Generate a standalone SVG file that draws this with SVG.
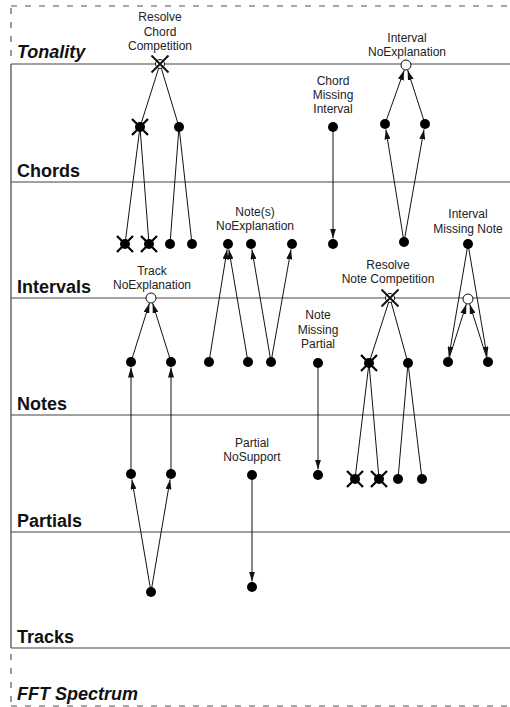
<svg xmlns="http://www.w3.org/2000/svg" xmlns:xlink="http://www.w3.org/1999/xlink" width="510" height="707" viewBox="0 0 510 707">
<style>
.frame{stroke:#444;stroke-width:1.2;fill:none}
.dash{stroke:#555;stroke-width:1.2;stroke-dasharray:6 8;fill:none}
.lvl{font-family:"Liberation Sans",Arial,sans-serif;font-size:18px;font-weight:bold;fill:#111}
.it{font-style:italic}
.lbl{font-family:"Liberation Sans",Arial,sans-serif;font-size:12px;fill:#222;text-anchor:middle}
.edge{stroke:#111;stroke-width:1;fill:none}
.arr{stroke:#111;stroke-width:1;fill:none;marker-end:url(#ah)}
</style>
<defs>
<marker id="ah" viewBox="0 0 10 6" markerWidth="10" markerHeight="6" refX="10" refY="3" orient="auto" markerUnits="userSpaceOnUse">
<path d="M0,0 L10,3 L0,6 Z" fill="#111"/>
</marker>
<g id="dot"><circle r="5" fill="#000"/></g>
<g id="open"><circle r="5" fill="#fff" stroke="#111" stroke-width="1"/></g>
<g id="xdot"><circle r="5" fill="#000"/><path d="M-8,-8 L8,8 M-8,8 L8,-8" stroke="#000" stroke-width="2.2"/></g>
<g id="xopen"><circle r="4.5" fill="#fff" stroke="#111" stroke-width="1"/><path d="M-8.5,-8.5 L8.5,8.5 M-8.5,8.5 L8.5,-8.5" stroke="#111" stroke-width="1.9"/></g>
</defs>
<rect width="510" height="707" fill="#fff"/>
<g id="frame">
<line class="dash" x1="11" y1="6" x2="510" y2="6"/>
<line class="dash" x1="11" y1="8" x2="11" y2="64"/>
<line class="frame" x1="11" y1="64" x2="11" y2="648"/>
<line class="dash" x1="11" y1="654" x2="11" y2="707"/>
<line class="dash" x1="11" y1="706" x2="510" y2="706"/>
<line class="frame" x1="11" y1="64" x2="510" y2="64"/>
<line class="frame" x1="11" y1="182" x2="510" y2="182"/>
<line class="frame" x1="11" y1="298" x2="510" y2="298"/>
<line class="frame" x1="11" y1="415" x2="510" y2="415"/>
<line class="frame" x1="11" y1="532" x2="510" y2="532"/>
<line class="frame" x1="11" y1="648" x2="510" y2="648"/>
</g>
<g id="levels">
<text class="lvl it" x="17" y="58">Tonality</text>
<text class="lvl" x="17" y="177">Chords</text>
<text class="lvl" x="17" y="293">Intervals</text>
<text class="lvl" x="17" y="410">Notes</text>
<text class="lvl" x="17" y="527">Partials</text>
<text class="lvl" x="17" y="643">Tracks</text>
<text class="lvl it" x="17" y="700">FFT Spectrum</text>
</g>
<g id="connectors">
<line class="edge" x1="160" y1="64" x2="140" y2="127"/>
<line class="edge" x1="160" y1="64" x2="179" y2="127"/>
<line class="edge" x1="140" y1="127" x2="125" y2="244"/>
<line class="edge" x1="140" y1="127" x2="149" y2="244"/>
<line class="edge" x1="179" y1="127" x2="170" y2="244"/>
<line class="edge" x1="179" y1="127" x2="192" y2="244"/>
<line class="arr" x1="333" y1="127" x2="333" y2="238.5"/>
<line class="arr" x1="385" y1="124" x2="404.2" y2="70.2"/>
<line class="arr" x1="425" y1="124" x2="407.7" y2="70.2"/>
<line class="arr" x1="404" y1="242" x2="385.9" y2="129.4"/>
<line class="arr" x1="404" y1="242" x2="424" y2="129.4"/>
<line class="arr" x1="209" y1="362" x2="227.1" y2="249.4"/>
<line class="arr" x1="248" y1="362" x2="228.9" y2="249.4"/>
<line class="arr" x1="271" y1="362" x2="251.9" y2="249.4"/>
<line class="arr" x1="271" y1="362" x2="291" y2="249.4"/>
<line class="arr" x1="131" y1="362" x2="149.4" y2="303.2"/>
<line class="arr" x1="171" y1="362" x2="152.6" y2="303.2"/>
<line class="arr" x1="131" y1="474" x2="131" y2="367.5"/>
<line class="arr" x1="171" y1="474" x2="171" y2="367.5"/>
<line class="arr" x1="151" y1="592" x2="131.9" y2="479.4"/>
<line class="arr" x1="151" y1="592" x2="170.1" y2="479.4"/>
<line class="arr" x1="318" y1="363" x2="318" y2="469.5"/>
<line class="edge" x1="390" y1="298" x2="369" y2="363"/>
<line class="edge" x1="390" y1="298" x2="408" y2="363"/>
<line class="edge" x1="369" y1="363" x2="355" y2="479"/>
<line class="edge" x1="369" y1="363" x2="379" y2="479"/>
<line class="edge" x1="408" y1="363" x2="398" y2="479"/>
<line class="edge" x1="408" y1="363" x2="422" y2="479"/>
<line class="arr" x1="468" y1="244" x2="448.9" y2="356.6"/>
<line class="arr" x1="468" y1="244" x2="487.1" y2="356.6"/>
<line class="arr" x1="448" y1="362" x2="466.3" y2="304.2"/>
<line class="arr" x1="488" y1="362" x2="469.7" y2="304.2"/>
<line class="arr" x1="252" y1="475" x2="252" y2="581.5"/>
</g>
<g id="resolve-chord-competition">
<text class="lbl" x="160" y="21">Resolve</text>
<text class="lbl" x="160" y="36">Chord</text>
<text class="lbl" x="160" y="50">Competition</text>
<use xlink:href="#xopen" x="160" y="64"/>
<use xlink:href="#xdot" x="140" y="127"/>
<use xlink:href="#dot" x="179" y="127"/>
<use xlink:href="#xdot" x="125" y="244"/>
<use xlink:href="#xdot" x="149" y="244"/>
<use xlink:href="#dot" x="170" y="244"/>
<use xlink:href="#dot" x="192" y="244"/>
</g>
<g id="chord-missing-interval">
<text class="lbl" x="333" y="85">Chord</text>
<text class="lbl" x="333" y="99">Missing</text>
<text class="lbl" x="333" y="113">Interval</text>
<use xlink:href="#dot" x="333" y="127"/>
<use xlink:href="#dot" x="333" y="244"/>
</g>
<g id="interval-noexplanation">
<text class="lbl" x="407" y="42">Interval</text>
<text class="lbl" x="407" y="56">NoExplanation</text>
<use xlink:href="#open" x="406" y="65"/>
<use xlink:href="#dot" x="385" y="124"/>
<use xlink:href="#dot" x="425" y="124"/>
<use xlink:href="#dot" x="404" y="242"/>
</g>
<g id="notes-noexplanation">
<text class="lbl" x="255" y="216">Note(s)</text>
<text class="lbl" x="255" y="230">NoExplanation</text>
<use xlink:href="#dot" x="228" y="244"/>
<use xlink:href="#dot" x="251" y="244"/>
<use xlink:href="#dot" x="292" y="244"/>
<use xlink:href="#dot" x="209" y="362"/>
<use xlink:href="#dot" x="248" y="362"/>
<use xlink:href="#dot" x="271" y="362"/>
</g>
<g id="track-noexplanation">
<text class="lbl" x="152" y="275">Track</text>
<text class="lbl" x="152" y="289">NoExplanation</text>
<use xlink:href="#open" x="151" y="298"/>
<use xlink:href="#dot" x="131" y="362"/>
<use xlink:href="#dot" x="171" y="362"/>
<use xlink:href="#dot" x="131" y="474"/>
<use xlink:href="#dot" x="171" y="474"/>
<use xlink:href="#dot" x="151" y="592"/>
</g>
<g id="interval-missing-note">
<text class="lbl" x="468" y="218">Interval</text>
<text class="lbl" x="468" y="233">Missing Note</text>
<use xlink:href="#dot" x="468" y="244"/>
<use xlink:href="#open" x="468" y="299"/>
<use xlink:href="#dot" x="448" y="362"/>
<use xlink:href="#dot" x="488" y="362"/>
</g>
<g id="resolve-note-competition">
<text class="lbl" x="388" y="269">Resolve</text>
<text class="lbl" x="388" y="283">Note Competition</text>
<use xlink:href="#xopen" x="390" y="298"/>
<use xlink:href="#xdot" x="369" y="363"/>
<use xlink:href="#dot" x="408" y="363"/>
<use xlink:href="#xdot" x="355" y="479"/>
<use xlink:href="#xdot" x="379" y="479"/>
<use xlink:href="#dot" x="398" y="479"/>
<use xlink:href="#dot" x="422" y="479"/>
</g>
<g id="note-missing-partial">
<text class="lbl" x="318" y="319">Note</text>
<text class="lbl" x="318" y="334">Missing</text>
<text class="lbl" x="318" y="348">Partial</text>
<use xlink:href="#dot" x="318" y="363"/>
<use xlink:href="#dot" x="318" y="475"/>
</g>
<g id="partial-nosupport">
<text class="lbl" x="252" y="447">Partial</text>
<text class="lbl" x="252" y="461">NoSupport</text>
<use xlink:href="#dot" x="252" y="475"/>
<use xlink:href="#dot" x="252" y="587"/>
</g>
</svg>
